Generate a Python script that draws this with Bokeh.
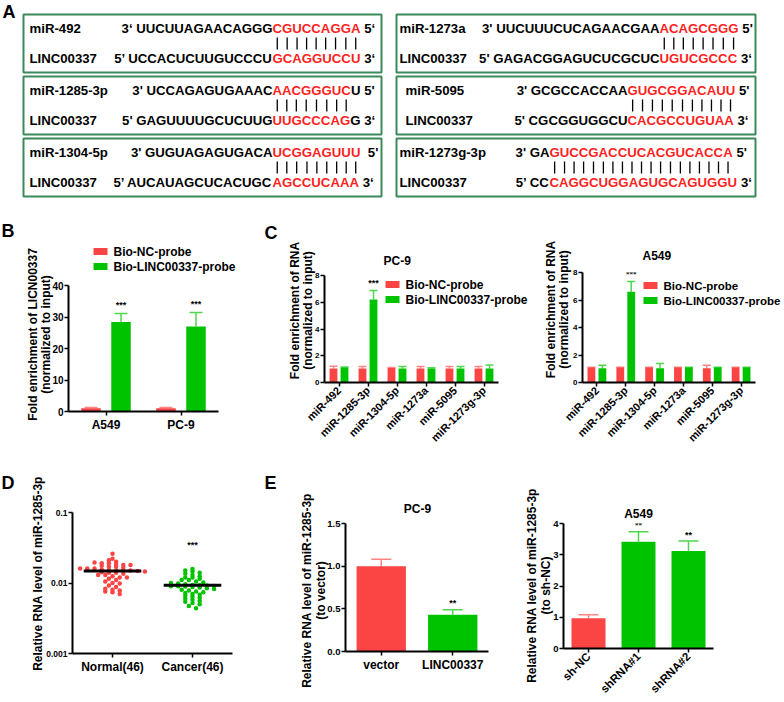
from math import pi
import numpy as np
from bokeh.plotting import figure
from bokeh.models import (Range1d, FactorRange, ColumnDataSource, Whisker, TeeHead,
                          FixedTicker, NumeralTickFormatter)
from bokeh.transform import dodge
from bokeh.core.properties import value
from bokeh.embed import file_html
from bokeh.resources import INLINE

# ---------------- data ----------------
# Panel A : miRNA / LINC00337 pairing (prefix, paired part, suffix)
a_mir_names = ["miR-492", "miR-1285-3p", "miR-1304-5p", "miR-1273a", "miR-5095", "miR-1273g-3p"]
a_mir_seq = [
    ("3\u2018 UUCUUAGAACAGGG", "CGUCCAGGA", " 5\u2018"),
    ("3' UCCAGAGUGAAAC", "AACGGGUC", "U  5'"),
    ("3' GUGUAGAGUGACA", "UCGGAGUUU", "  5'"),
    ("3' UUCUUUCUCAGAACGAA", "ACAGCGGG", " 5'"),
    ("3' GCGCCACCAA", "GUGCGGACAUU", " 5'"),
    ("3' GA", "GUCCGACCUCACGUCACCA", " 5'"),
]
a_linc_seq = [
    ("5\u2019 UCCACUCUUGUCCCU", "GCAGGUCCU", " 3\u2018"),
    ("5' GAGUUUUGCUCUUG", "UUGCCCAG", "G 3\u2018"),
    ("5\u2019 AUCAUAGCUCACUGC", "AGCCUCAAA", " 3\u2018"),
    ("5' GAGACGGAGUCUCGCUC", "UGUCGCCC", " 3\u2018"),
    ("5' CGCGGUGGCU", "CACGCCUGUAA", " 3\u2018"),
    ("5\u2019 CC", "CAGGCUGGAGUGCAGUGGU", " 3\u2018"),
]
a_target = "LINC00337"

# Panel B
b_cells = ["A549", "PC-9"]
b_nc = [1.0, 1.0]
b_nc_err = [0.3, 0.3]
b_linc = [28.4, 27.0]
b_linc_err = [2.7, 4.4]
b_sig = ["***", "***"]

# Panel C
c_mirs = ["miR-492", "miR-1285-3p", "miR-1304-5p", "miR-1273a", "miR-5095", "miR-1273g-3p"]
c_pc9_nc = [1.04, 1.04, 1.09, 1.04, 1.04, 1.04]
c_pc9_nc_err = [0.18, 0.16, 0.03, 0.16, 0.16, 0.16]
c_pc9_linc = [1.12, 6.21, 1.04, 1.04, 1.04, 1.04]
c_pc9_linc_err = [0.03, 0.67, 0.16, 0.06, 0.16, 0.26]
c_a549_nc = [1.09, 1.09, 1.09, 1.09, 1.04, 1.09]
c_a549_nc_err = [0.02, 0.02, 0.02, 0.02, 0.22, 0.02]
c_a549_linc = [1.04, 6.60, 1.04, 1.09, 1.09, 1.09]
c_a549_linc_err = [0.22, 0.75, 0.34, 0.02, 0.02, 0.02]
c_sig = ["", "***", "", "", "", ""]
c_series = ["Bio-NC-probe", "Bio-LINC00337-probe"]

# Panel D
d_groups = ["Normal(46)", "Cancer(46)"]
d_normal = [0.026, 0.022, 0.021, 0.020, 0.0195, 0.019, 0.019, 0.0185, 0.018, 0.018,
            0.0175, 0.017, 0.017, 0.0165, 0.016, 0.016, 0.016, 0.0155, 0.0152, 0.015,
            0.015, 0.015, 0.0148, 0.0145, 0.0142, 0.014, 0.014, 0.0135, 0.013, 0.013,
            0.0125, 0.012, 0.012, 0.0115, 0.011, 0.0105, 0.010, 0.0098, 0.0092, 0.0088,
            0.0083, 0.008, 0.0078, 0.0076, 0.0074, 0.0070]
d_cancer = [0.0158, 0.015, 0.0145, 0.014, 0.0135, 0.013, 0.0125, 0.012, 0.012, 0.0115,
            0.011, 0.011, 0.0105, 0.0102, 0.010, 0.0098, 0.0096, 0.0094, 0.0093, 0.0092,
            0.0091, 0.009, 0.009, 0.0089, 0.0088, 0.0086, 0.0084, 0.0082, 0.008, 0.0078,
            0.0076, 0.0074, 0.0072, 0.007, 0.0068, 0.0066, 0.0064, 0.0062, 0.006, 0.0058,
            0.0056, 0.0054, 0.0052, 0.005, 0.0047, 0.0044]
d_means = [0.0148, 0.0093]
d_sig = ["", "***"]

# Panel E
e_pc9_groups = ["vector", "LINC00337"]
e_pc9_vals = [1.0, 0.43]
e_pc9_err = [0.08, 0.06]
e_pc9_sig = ["", "**"]
e_a549_groups = ["sh-NC", "shRNA#1", "shRNA#2"]
e_a549_vals = [0.97, 3.42, 3.12]
e_a549_err = [0.11, 0.32, 0.32]
e_a549_sig = ["", "**", "**"]

# ---------------- style ----------------
FONT = "Liberation Sans"
RED = "#fb4545"
GREEN = "#00c300"
RED_ERR = "#ff8585"
GREEN_ERR = "#4fd64f"
BOX = "#3a8a5c"
W_PAGE, H_PAGE = 784, 702


def transparent(p):
    p.outline_line_color = None
    p.background_fill_alpha = 0
    p.border_fill_alpha = 0
    p.title.visible = False


def chart_fig(fig_box, frame, x_range, y_range, **kw):
    fx0, fy0, fx1, fy1 = fig_box
    gx0, gy0, gx1, gy1 = frame
    p = figure(width=fx1 - fx0, height=fy1 - fy0, x_range=x_range, y_range=y_range,
               output_backend="svg", toolbar_location=None,
               min_border_left=gx0 - fx0, min_border_right=fx1 - gx1,
               min_border_top=gy0 - fy0, min_border_bottom=fy1 - gy1, **kw)
    transparent(p)
    p.grid.visible = False
    return p


def style_axes(p, ytick_size, xtick_size, x_orient=None):
    p.axis.axis_line_width = 2
    p.axis.axis_line_color = "black"
    p.axis.major_tick_line_width = 1.5
    p.axis.major_tick_line_color = "black"
    p.axis.major_tick_out = 4
    p.axis.major_tick_in = 0
    p.axis.minor_tick_line_color = None
    p.axis.major_label_text_font = FONT
    p.axis.major_label_text_font_style = "bold"
    p.axis.major_label_text_color = "black"
    p.xaxis.major_label_standoff = 2
    p.yaxis.major_label_standoff = 1
    p.yaxis.major_label_text_font_size = ytick_size
    p.xaxis.major_label_text_font_size = xtick_size
    if x_orient is not None:
        p.xaxis.major_label_orientation = x_orient


def add_whisker(p, src, offset, lower, upper, color, cap):
    p.add_layout(Whisker(base=dodge("cat", offset, range=p.x_range), lower=lower, upper=upper,
                         source=src, line_color=color, line_width=1.5,
                         upper_head=TeeHead(size=cap, line_color=color, line_width=1.5),
                         lower_head=None))


def tw(s, size):
    W = {"A": 722, "C": 722, "G": 778, "U": 722, "'": 238, "\u2018": 278, "\u2019": 278,
         " ": 278, "3": 556, "5": 556}
    return sum(W.get(ch, 600) for ch in s) * size / 1000.0


# overlay drawing area: data coordinates are page pixels
ov = figure(width=W_PAGE, height=H_PAGE, x_range=Range1d(0, W_PAGE), y_range=Range1d(H_PAGE, 0),
            output_backend="svg", toolbar_location=None, x_axis_type=None, y_axis_type=None,
            min_border=0)
transparent(ov)


def otext(x, y, text, size, align="left", baseline="middle", angle=0.0, color="black"):
    ov.text(x=[x], y=[y], text=[text], angle=angle, text_font=value(FONT),
            text_font_size=f"{size}px", text_font_style="bold", text_align=align,
            text_baseline=baseline, text_color=color)


def legend_block(x, y_first, size=12, gap=15):
    # colour keys + labels of the two probe series
    for k, (lab, col) in enumerate(zip(c_series, (RED, GREEN))):
        yc = y_first + k * gap
        ov.quad(left=[x], right=[x + 14], top=[yc - 3.5], bottom=[yc + 3.5],
                fill_color=col, line_color=None)
        otext(x + 20, yc, lab, size)


# ---------------- Panel A ----------------
A_SIZE = 13.2
A_BOX_X = [(23, 381), (23, 381), (23, 381), (396, 755), (396, 755), (396, 755)]
A_BOX_TOP = [14, 76, 138, 14, 76, 138]
A_BOX_H = 58
A_LABEL_X = [29, 29, 29, 399, 405, 399]
A_RED_X = [272, 272, 272, 659, 627, 549]

ov.quad(left=[b[0] for b in A_BOX_X], right=[b[1] for b in A_BOX_X],
        top=A_BOX_TOP, bottom=[t + A_BOX_H for t in A_BOX_TOP],
        fill_alpha=0, line_color=BOX, line_width=2)

lx, ly, lt, lc = [], [], [], []
rx, ry, rt = [], [], []
bx, by0, by1 = [], [], []
for i, name in enumerate(a_mir_names):
    top = A_BOX_TOP[i]
    y1, y2 = top + 14, top + 44
    lx += [A_LABEL_X[i], A_LABEL_X[i]]
    ly += [y1, y2]
    lt += [name, a_target]
    lc += ["black", "black"]
    red_x = A_RED_X[i]
    for (pre, red, suf), yy in ((a_mir_seq[i], y1), (a_linc_seq[i], y2)):
        rx.append(red_x); ry.append(yy); rt.append(pre)
        lx.append(red_x); ly.append(yy); lt.append(red); lc.append("#ff1f1f")
        lead = len(suf) - len(suf.lstrip())
        lx.append(red_x + tw(red, A_SIZE) + tw(" " * lead, A_SIZE)); ly.append(yy)
        lt.append(suf.lstrip()); lc.append("black")
    red_m = a_mir_seq[i][1]
    for j, ch in enumerate(red_m):
        cx = red_x + tw(red_m[:j], A_SIZE) + tw(ch, A_SIZE) / 2
        bx.append(cx); by0.append(top + 23); by1.append(top + 35)

ov.text(x="x", y="y", text="t", text_color="c",
        source=ColumnDataSource(dict(x=lx, y=ly, t=lt, c=lc)),
        text_font=value(FONT), text_font_size=f"{A_SIZE}px", text_font_style="bold",
        text_align="left", text_baseline="middle")
ov.text(x="x", y="y", text="t", source=ColumnDataSource(dict(x=rx, y=ry, t=rt)),
        text_color="black", text_font=value(FONT), text_font_size=f"{A_SIZE}px",
        text_font_style="bold", text_align="right", text_baseline="middle")
ov.segment(x0=bx, y0=by0, x1=bx, y1=by1, line_color="black", line_width=1.3)
otext(2, 1, "A", 18, baseline="top")

figs = []  # (figure, page x, page y)

# ---------------- Panel B ----------------
B_FIG = (36, 275, 226, 445)
B_FRAME = (68, 285, 218, 411)
pB = chart_fig(B_FIG, B_FRAME, FactorRange(factors=b_cells), Range1d(0, 40))
b_nc_up = [v + e for v, e in zip(b_nc, b_nc_err)]
b_linc_up = [v + e for v, e in zip(b_linc, b_linc_err)]
srcB = ColumnDataSource(dict(cat=b_cells, nc=b_nc, nc_up=b_nc_up, linc=b_linc,
                             linc_up=b_linc_up, sig=b_sig, sig_y=[u + 1.2 for u in b_linc_up]))
add_whisker(pB, srcB, -0.2, "nc", "nc_up", RED_ERR, 13)
add_whisker(pB, srcB, 0.2, "linc", "linc_up", GREEN_ERR, 13)
pB.vbar(x=dodge("cat", -0.2, range=pB.x_range), top="nc", width=0.26, source=srcB,
        fill_color=RED, line_color=None)
pB.vbar(x=dodge("cat", 0.2, range=pB.x_range), top="linc", width=0.26, source=srcB,
        fill_color=GREEN, line_color=None)
pB.text(x=dodge("cat", 0.2, range=pB.x_range), y="sig_y", text="sig", source=srcB,
        text_font=value(FONT), text_font_size="9px", text_font_style="bold",
        text_align="center", text_baseline="bottom", text_color="black")
pB.yaxis.ticker = FixedTicker(ticks=[0, 10, 20, 30, 40])
style_axes(pB, "10px", "12px")
figs.append((pB, B_FIG[0], B_FIG[1]))

otext(1, 220, "B", 18, baseline="top")
legend_block(93, 251, 12)
otext(32, 334, "Fold enrichment of LICN00337", 12, align="center", angle=pi / 2)
otext(45, 334, "(normalized to input)", 12, align="center", angle=pi / 2)


# ---------------- Panel C ----------------
def panel_c(fig_box, frame, nc, nc_err, linc, linc_err):
    p = chart_fig(fig_box, frame, FactorRange(factors=c_mirs), Range1d(0, 8))
    nc_up = [v + e for v, e in zip(nc, nc_err)]
    linc_up = [v + e for v, e in zip(linc, linc_err)]
    src = ColumnDataSource(dict(cat=c_mirs, nc=nc, nc_up=nc_up, linc=linc, linc_up=linc_up,
                                sig=c_sig, sig_y=[u + 0.2 for u in linc_up]))
    add_whisker(p, src, -0.19, "nc", "nc_up", RED_ERR, 8)
    add_whisker(p, src, 0.19, "linc", "linc_up", GREEN_ERR, 8)
    p.vbar(x=dodge("cat", -0.19, range=p.x_range), top="nc", width=0.27, source=src,
           fill_color=RED, line_color=None)
    p.vbar(x=dodge("cat", 0.19, range=p.x_range), top="linc", width=0.27, source=src,
           fill_color=GREEN, line_color=None)
    p.text(x=dodge("cat", 0.19, range=p.x_range), y="sig_y", text="sig", source=src,
           text_font=value(FONT), text_font_size="9px", text_font_style="bold",
           text_align="center", text_baseline="bottom", text_color="black")
    p.yaxis.ticker = FixedTicker(ticks=[0, 2, 4, 6, 8])
    style_axes(p, "8px", "11px", pi / 4)
    return p


C1_FIG = (300, 265, 506, 462)
C1_FRAME = (324, 275, 498, 382)
pC1 = panel_c(C1_FIG, C1_FRAME, c_pc9_nc, c_pc9_nc_err, c_pc9_linc, c_pc9_linc_err)
figs.append((pC1, C1_FIG[0], C1_FIG[1]))
otext(264, 222, "C", 18, baseline="top")
otext(383, 260, "PC-9", 12)
legend_block(385, 284, 12)
otext(294, 310, "Fold enrichment of RNA", 12, align="center", angle=pi / 2)
otext(307, 310, "(normalized to input)", 12, align="center", angle=pi / 2)

C2_FIG = (560, 262, 762, 462)
C2_FRAME = (582, 272, 755, 382)
pC2 = panel_c(C2_FIG, C2_FRAME, c_a549_nc, c_a549_nc_err, c_a549_linc, c_a549_linc_err)
figs.append((pC2, C2_FIG[0], C2_FIG[1]))
otext(642, 255, "A549", 12)
legend_block(643, 285, 11.5)
otext(550, 309, "Fold enrichment of RNA", 12, align="center", angle=pi / 2)
otext(563, 309, "(normalized to input)", 12, align="center", angle=pi / 2)

# ---------------- Panel D ----------------
D_FIG = (40, 502, 240, 690)
D_FRAME = (72, 512, 232, 653)
pD = chart_fig(D_FIG, D_FRAME, FactorRange(factors=d_groups), Range1d(0.001, 0.1),
               y_axis_type="log")


def swarm_offsets(vals, bin_w=0.045, step=0.09):
    logs = np.log10(np.asarray(vals))
    bins = np.floor((logs - logs.min()) / bin_w).astype(int)
    offs = np.zeros(len(vals))
    for b in np.unique(bins):
        idx = np.where(bins == b)[0]
        n = len(idx)
        offs[idx] = (np.arange(n) - (n - 1) / 2.0) * step
    return offs


for gi, (vals, col) in enumerate(((d_normal, RED), (d_cancer, GREEN))):
    xs = gi + 0.5 + swarm_offsets(vals)
    pD.scatter(x=xs, y=vals, size=4.5, marker="circle", fill_color=col, line_color=None)
pD.segment(x0=[i + 0.5 - 0.36 for i in range(len(d_groups))],
           x1=[i + 0.5 + 0.36 for i in range(len(d_groups))],
           y0=d_means, y1=d_means, line_color="black", line_width=3)
pD.text(x=d_groups, y=[max(d_cancer) * 2.2] * len(d_groups), text=d_sig,
        text_font=value(FONT), text_font_size="9px", text_font_style="bold",
        text_align="center", text_baseline="middle", text_color="black")
pD.yaxis.ticker = FixedTicker(ticks=[0.001, 0.01, 0.1], minor_ticks=[])
pD.yaxis.formatter = NumeralTickFormatter(format="0.[000]")
style_axes(pD, "8.5px", "12px")
figs.append((pD, D_FIG[0], D_FIG[1]))
otext(1, 472, "D", 18, baseline="top")
otext(37, 573, "Relative RNA level of miR-1285-3p", 12, align="center", angle=pi / 2)


# ---------------- Panel E ----------------
def panel_e(fig_box, frame, groups, vals, errs, sig, ymax, ticks, fmt, bar_w, cap,
            sig_pad, xsize, x_orient=None):
    p = chart_fig(fig_box, frame, FactorRange(factors=groups), Range1d(0, ymax))
    ups = [v + e for v, e in zip(vals, errs)]
    cols = [RED] + [GREEN] * (len(groups) - 1)
    ecols = [RED_ERR] + [GREEN_ERR] * (len(groups) - 1)
    for i, g in enumerate(groups):
        s = ColumnDataSource(dict(cat=[g], v=[vals[i]], up=[ups[i]]))
        add_whisker(p, s, 0.0, "v", "up", ecols[i], cap)
    p.vbar(x=groups, top=vals, width=bar_w, fill_color=cols, line_color=None)
    p.text(x=groups, y=[u + sig_pad for u in ups], text=sig, text_font=value(FONT),
           text_font_size="9px", text_font_style="bold", text_align="center",
           text_baseline="bottom", text_color="black")
    p.yaxis.ticker = FixedTicker(ticks=ticks)
    p.yaxis.formatter = NumeralTickFormatter(format=fmt)
    style_axes(p, "9.5px", xsize, x_orient)
    return p


E1_FIG = (315, 513, 496, 690)
E1_FRAME = (345, 523, 488, 651)
pE1 = panel_e(E1_FIG, E1_FRAME, e_pc9_groups, e_pc9_vals, e_pc9_err, e_pc9_sig, 1.5,
              [0, 0.5, 1.0, 1.5], "0.0", 0.69, 20, 0.02, "12px")
figs.append((pE1, E1_FIG[0], E1_FIG[1]))
otext(264, 472, "E", 18, baseline="top")
otext(417, 508, "PC-9", 12, align="center")
otext(306, 590, "Relative RNA level of miR-1285-3p", 12, align="center", angle=pi / 2)
otext(320, 590, "(to vector)", 12, align="center", angle=pi / 2)

E2_FIG = (540, 513, 720, 702)
E2_FRAME = (563, 523, 713, 649)
pE2 = panel_e(E2_FIG, E2_FRAME, e_a549_groups, e_a549_vals, e_a549_err, e_a549_sig, 4,
              [0, 1, 2, 3, 4], "0", 0.68, 20, 0.04, "11.5px", x_orient=pi / 4)
figs.append((pE2, E2_FIG[0], E2_FIG[1]))
otext(638, 513, "A549", 12, align="center")
otext(531, 585, "Relative RNA level of miR-1285-3p", 12, align="center", angle=pi / 2)
otext(545, 585, "(to sh-NC)", 12, align="center", angle=pi / 2)

# ---------------- page: every figure absolutely placed ----------------
figs.append((ov, 0, 0))
roots = [f for f, _, _ in figs]
divs = "".join(
    '<div style="position:absolute;left:%dpx;top:%dpx;">{{ embed(doc.roots[%d]) }}</div>'
    % (x, y, i) for i, (_, x, y) in enumerate(figs))
head = "{% block contents %}{% from macros import embed %}"
box = ('<div style="position:absolute;left:0px;top:0px;width:' + str(W_PAGE)
       + 'px;height:' + str(H_PAGE) + 'px;">')
TEMPLATE = head + box + divs + "</div>{% endblock %}"

open("out.html", "w").write(file_html(roots, INLINE, template=TEMPLATE))
